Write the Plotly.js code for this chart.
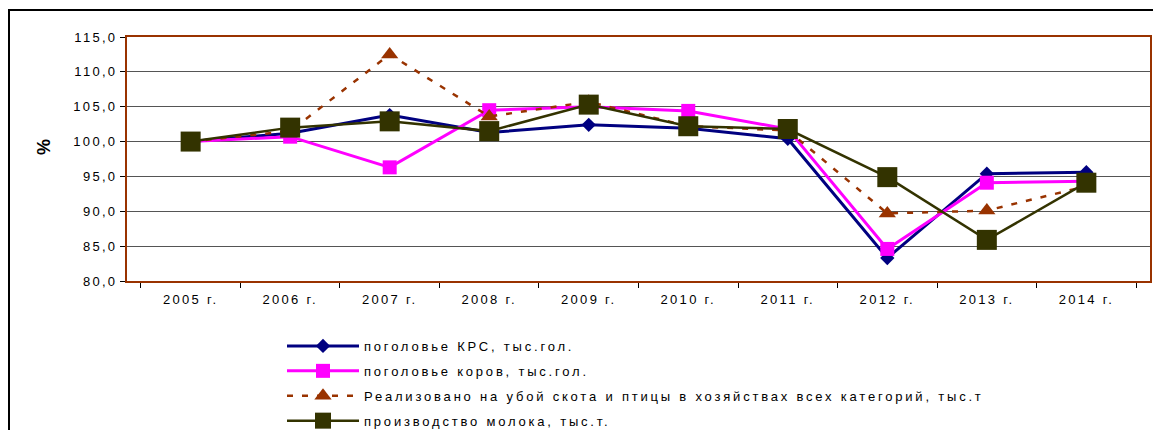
<!DOCTYPE html>
<html>
<head>
<meta charset="utf-8">
<script src="https://cdn.plot.ly/plotly-3.0.1.min.js"></script>
<style>
html,body{margin:0;padding:0;background:#fff}
#chart{width:1153px;height:430px}
#chart .xtick text, #chart .ytick text{letter-spacing:2.3px}
text.legendtext{letter-spacing:2.8px}
</style>
</head>
<body>
<div id="chart"></div>
<script>
const years = ["2005 г.","2006 г.","2007 г.","2008 г.","2009 г.","2010 г.","2011 г.","2012 г.","2013 г.","2014 г."];
const krsHead = [100.0, 101.2, 103.8, 101.3, 102.4, 101.9, 100.4, 83.3, 95.4, 95.6];
const cowsHead = [100.0, 100.7, 96.3, 104.5, 105.0, 104.4, 101.8, 84.6, 94.1, 94.3];
const slaughter = [100.0, 101.5, 112.5, 103.6, 105.7, 102.2, 101.6, 89.7, 90.1, 93.6];
const milk = [100.0, 102.0, 102.9, 101.5, 105.3, 102.2, 101.8, 94.9, 85.9, 94.1];
const yTicks = [80,85,90,95,100,105,110,115];
const names = ["поголовье КРС, тыс.гол.","поголовье коров, тыс.гол.","Реализовано на убой скота и птицы в хозяйствах всех категорий, тыс.т","производство молока, тыс.т."];
const yTitle = "%";

const FONT = 'Liberation Sans, Arial, sans-serif';

const traces = [
  {x: years, y: krsHead, name: names[0], type:'scatter', mode:'lines+markers', legendgroup:'a',
   line:{color:'#000080', width:3}, marker:{symbol:'diamond', size:11, color:'#000080'}},
  {x: years, y: cowsHead, name: names[1], type:'scatter', mode:'lines+markers', legendgroup:'b',
   line:{color:'#FF00FF', width:3}, marker:{symbol:'square', size:14, color:'#FF00FF'}},
  {x: years, y: slaughter, name: names[2], type:'scatter', mode:'lines+markers', legendgroup:'c',
   line:{color:'#993300', width:2.5, dash:'6px,9px'}, marker:{symbol:'triangle-up', size:15, color:'#993300'}},
  {x: years, y: milk, name: names[3], type:'scatter', mode:'lines+markers', legendgroup:'d',
   line:{color:'#333300', width:2.5}, marker:{symbol:'square', size:20, color:'#333300'}}
];

const px = v => (v - 127) / 1023;
const py = v => (281 - v) / 244;

const layout = {
  width:1153, height:430,
  margin:{l:127, r:3, t:37, b:149, pad:0, autoexpand:false},
  paper_bgcolor:'#fff', plot_bgcolor:'#fff',
  font:{family:FONT, size:13, color:'#000'},
  separators:', ',
  showlegend:true,
  legend:{x:px(282), y:py(331), xanchor:'left', yanchor:'top', orientation:'v',
    traceorder:'grouped', tracegroupgap:5, itemwidth:72, bgcolor:'rgba(0,0,0,0)',
    font:{family:FONT, size:13, color:'#000'}},
  xaxis:{type:'category', tickson:'boundaries', ticks:'outside', ticklen:5, tickcolor:'#000',
    showline:true, linecolor:'#993300', linewidth:2, mirror:true, showgrid:false, zeroline:false,
    tickfont:{size:13}, ticklabelstandoff:5, fixedrange:true, automargin:false},
  yaxis:{range:[80,115], tickvals:yTicks, tickformat:'.1f', ticks:'outside', ticklen:5, tickcolor:'#000',
    showline:true, linecolor:'#993300', linewidth:2, mirror:true, showgrid:true, gridcolor:'#555', gridwidth:1,
    zeroline:false, tickfont:{size:13}, automargin:false},
  annotations:[
    {text:'<b>'+yTitle+'</b>', xref:'paper', yref:'paper', x:px(44), y:py(147), textangle:-90,
     showarrow:false, font:{family:FONT, size:18, color:'#000'}, xanchor:'center', yanchor:'middle'}
  ],
  shapes:[
    {type:'line', xref:'paper', yref:'paper', x0:px(9), x1:px(9), y0:py(440), y1:py(10), line:{color:'#000', width:2}},
    {type:'line', xref:'paper', yref:'paper', x0:px(8), x1:px(1160), y0:py(10), y1:py(10), line:{color:'#000', width:2}}
  ]
};

Plotly.newPlot('chart', traces, layout, {displayModeBar:false, staticPlot:true});
</script>
</body>
</html>
